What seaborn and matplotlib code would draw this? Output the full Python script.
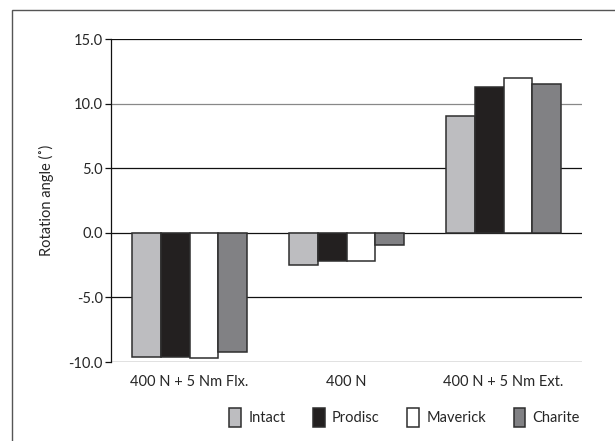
import matplotlib
matplotlib.use("Agg")
import matplotlib.pyplot as plt
import matplotlib.patches as mpatches
import seaborn as sns
import pandas as pd

categories = ["400 N + 5 Nm Flx.", "400 N", "400 N + 5 Nm Ext."]
series = ["Intact", "Prodisc", "Maverick", "Charite"]
intact = [-9.6, -2.47, 9.07]
prodisc = [-9.6, -2.19, 11.31]
maverick = [-9.72, -2.16, 12.0]
charite = [-9.2, -0.95, 11.49]
yticks = [-10, -5, 0, 5, 10, 15]
colors = ["#bcbdc1", "#231f20", "#ffffff", "#808184"]

rows = []
for name, vals in zip(series, [intact, prodisc, maverick, charite]):
    for c, v in zip(categories, vals):
        rows.append({"cat": c, "series": name, "value": v})
df = pd.DataFrame(rows)

sns.set_style("white")
plt.rcParams["font.family"] = ["Lato", "DejaVu Sans"]

fig = plt.figure(figsize=(6.15, 4.41), dpi=100)
ax = fig.add_axes([0.1805, 0.179, 0.766, 0.7325])

sns.barplot(data=df, x="cat", y="value", hue="series", order=categories,
            hue_order=series, palette=colors, width=0.73, gap=0,
            edgecolor="#2e2e2e", linewidth=1.1, ax=ax, zorder=3, errorbar=None)

ax.set_ylim(-10, 15)
ax.set_xlim(-0.5, 2.5)
ax.set_yticks(yticks)
ax.set_yticklabels([f"{t:.1f}" for t in yticks], fontsize=10.5)
for t in yticks:
    ax.axhline(t, color="#888888" if t == 10 else "#111111", lw=0.9, zorder=1)
ax.tick_params(axis="y", length=4, width=0.9, color="#111111", pad=2, direction="out", left=True)
ax.tick_params(axis="x", length=0, labelsize=10.5, pad=9)
ax.set_xlabel("")
ax.set_ylabel("Rotation angle (˚)", fontsize=10.5, labelpad=10)
for s in ["top", "right", "bottom"]:
    ax.spines[s].set_visible(False)
ax.spines["left"].set_color("#111111")
ax.spines["left"].set_linewidth(0.9)

handles, labels = ax.get_legend_handles_labels()
ax.get_legend().remove()
fig.legend(handles, labels, loc="center", bbox_to_anchor=(0.658, 0.054), ncol=4,
           frameon=False, fontsize=10.5, handlelength=0.8, handleheight=1.6,
           handletextpad=0.5, columnspacing=1.9)

border = mpatches.Rectangle((12 / 615, -0.5), 2, 1.5 - 10 / 441,
                            transform=fig.transFigure, fill=False,
                            edgecolor="#555555", lw=1.0)
fig.patches.append(border)

fig.savefig("out.png", dpi=100)
